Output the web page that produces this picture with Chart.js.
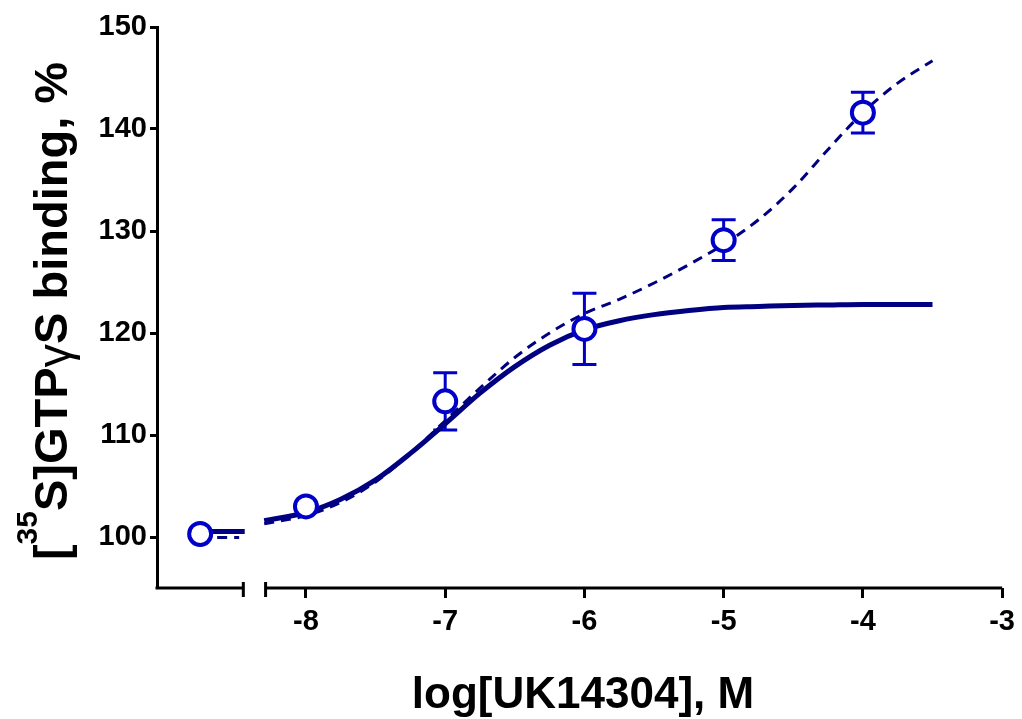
<!DOCTYPE html>
<html>
<head>
<meta charset="utf-8">
<script src="https://cdn.jsdelivr.net/npm/chart.js@4.4.0/dist/chart.umd.min.js"></script>
<style>
html,body{margin:0;padding:0;background:#fff;}
</style>
</head>
<body>
<canvas id="myChart" width="1022" height="719"></canvas>
<script>
// measured points (mean and SEM)
const doseX = [-8, -7, -6, -5, -4];
const meanY = [103.0, 113.3, 120.4, 129.1, 141.6];
const semY = [0, 2.8, 3.5, 2.0, 2.0];

// control (no agonist), drawn left of the axis break
const ctrlX = [-8.76];
const ctrlY = [100.3];
const ctrlSolidX = [-8.76, -8.44];
const ctrlSolidY = [100.55, 100.55];
const ctrlDashX = [-8.76, -8.48];
const ctrlDashY = [99.95, 99.95];

// fitted curves
const fitX = [-8.3, -8.0, -7.75, -7.5, -7.25, -7.0, -6.75, -6.5, -6.25, -6.0, -5.75, -5.5, -5.25, -5.0, -4.75, -4.5, -4.25, -4.0, -3.75, -3.5];
const solidY = [101.6, 102.4, 103.7, 105.6, 108.2, 111.1, 114.1, 116.7, 118.8, 120.3, 121.2, 121.8, 122.2, 122.5, 122.6, 122.7, 122.75, 122.8, 122.8, 122.8];
const dashY = [101.3, 102.1, 103.4, 105.4, 108.2, 111.4, 114.6, 117.6, 120.0, 121.9, 123.3, 124.9, 126.7, 128.7, 131.1, 134.2, 138.0, 141.6, 144.5, 146.7];

const tickX = [-8, -7, -6, -5, -4, -3];
const tickY = [100, 110, 120, 130, 140, 150];
const breakLeft = -8.45;
const breakRight = -8.29;

const blue = '#0000C8';
const navy = '#000080';
const fam = '"Liberation Sans", Arial, sans-serif';

function pts(xs, ys) {
    return xs.map((x, i) => ({x: x, y: ys[i]}));
}

const errorBars = {
    id: 'errorBars',
    beforeDatasetsDraw(chart) {
        const c = chart.ctx, sx = chart.scales.x, sy = chart.scales.y;
        c.save();
        c.strokeStyle = blue;
        c.lineWidth = 3;
        doseX.forEach((d, i) => {
            if (!semY[i]) return;
            const px = sx.getPixelForValue(d);
            const top = sy.getPixelForValue(meanY[i] + semY[i]);
            const bot = sy.getPixelForValue(meanY[i] - semY[i]);
            c.beginPath();
            c.moveTo(px, top); c.lineTo(px, bot);
            c.moveTo(px - 12, top); c.lineTo(px + 12, top);
            c.moveTo(px - 12, bot); c.lineTo(px + 12, bot);
            c.stroke();
        });
        c.restore();
    }
};

const brokenAxis = {
    id: 'brokenAxis',
    afterDraw(chart) {
        const c = chart.ctx, sx = chart.scales.x, area = chart.chartArea;
        const y = area.bottom;
        const a = sx.getPixelForValue(breakLeft), b = sx.getPixelForValue(breakRight);
        c.save();
        c.strokeStyle = '#000';
        c.lineWidth = 3;
        c.beginPath();
        c.moveTo(area.left - 1.5, y); c.lineTo(a, y);
        c.moveTo(b, y); c.lineTo(area.right, y);
        c.moveTo(a, y - 6); c.lineTo(a, y + 9);
        c.moveTo(b, y - 6); c.lineTo(b, y + 9);
        c.stroke();

        // axis titles
        c.fillStyle = '#000';
        c.textBaseline = 'alphabetic';
        c.textAlign = 'center';
        c.font = 'bold 44px ' + fam;
        c.fillText('log[UK14304], M', 583, 708);

        const big = 'bold 47px ' + fam;
        const sup = 'bold 30px ' + fam;
        const gam = '47px ' + fam;
        const parts = [
            {t: '[', f: big, dy: 0},
            {t: '35', f: sup, dy: -30},
            {t: 'S]GTP', f: big, dy: 0},
            {t: '\u03b3', f: gam, dy: 3},
            {t: 'S binding, %', f: big, dy: 0}
        ];
        let total = 0;
        parts.forEach(p => { c.font = p.f; p.w = c.measureText(p.t).width; total += p.w; });
        c.translate(67, 311);
        c.rotate(-Math.PI / 2);
        c.textAlign = 'left';
        let x = -total / 2;
        parts.forEach(p => {
            c.font = p.f;
            c.fillText(p.t, x, p.dy);
            x += p.w;
        });
        c.restore();
    }
};

const ctx = document.getElementById('myChart');

new Chart(ctx, {
    type: 'scatter',
    data: {
        datasets: [
            {
                label: 'data',
                data: pts(doseX, meanY).concat(pts(ctrlX, ctrlY)),
                showLine: false,
                pointRadius: 11,
                pointBorderWidth: 4,
                pointBorderColor: blue,
                pointBackgroundColor: '#fff',
                order: 0
            },
            {
                label: 'fit',
                data: pts(fitX, solidY),
                showLine: true,
                borderColor: navy,
                borderWidth: 5,
                pointRadius: 0,
                cubicInterpolationMode: 'monotone',
                order: 2
            },
            {
                label: 'fit2',
                data: pts(fitX, dashY),
                showLine: true,
                borderColor: navy,
                borderWidth: 3,
                borderDash: [10, 7],
                pointRadius: 0,
                cubicInterpolationMode: 'monotone',
                order: 1
            },
            {
                label: 'ctrl fit',
                data: pts(ctrlSolidX, ctrlSolidY),
                showLine: true,
                borderColor: navy,
                borderWidth: 5,
                pointRadius: 0,
                order: 2
            },
            {
                label: 'ctrl fit2',
                data: pts(ctrlDashX, ctrlDashY),
                showLine: true,
                borderColor: navy,
                borderWidth: 3,
                borderDash: [10, 7],
                pointRadius: 0,
                order: 1
            }
        ]
    },
    options: {
        responsive: false,
        animation: false,
        layout: {padding: {top: 27, right: 17, left: 0, bottom: 0}},
        plugins: {legend: {display: false}, tooltip: {enabled: false}},
        scales: {
            x: {
                type: 'linear',
                min: -9.07,
                max: -3,
                afterBuildTicks: s => { s.ticks = tickX.map(v => ({value: v})); },
                afterFit: s => { s.height = 131; },
                border: {display: false},
                grid: {drawOnChartArea: false, drawTicks: true, tickLength: 10, tickWidth: 3, tickColor: '#000'},
                ticks: {
                    color: '#000',
                    padding: 7,
                    maxRotation: 0,
                    font: {family: fam, size: 29, weight: 'bold'}
                }
            },
            y: {
                type: 'linear',
                min: 95,
                max: 150,
                afterBuildTicks: s => { s.ticks = tickY.map(v => ({value: v})); },
                afterFit: s => { s.width = 157; },
                border: {display: true, width: 3, color: '#000'},
                grid: {drawOnChartArea: false, drawTicks: true, tickLength: 7, tickWidth: 3, tickColor: '#000'},
                ticks: {
                    color: '#000',
                    padding: 3,
                    font: {family: fam, size: 29, weight: 'bold'}
                }
            }
        }
    },
    plugins: [errorBars, brokenAxis]
});
</script>
</body>
</html>
